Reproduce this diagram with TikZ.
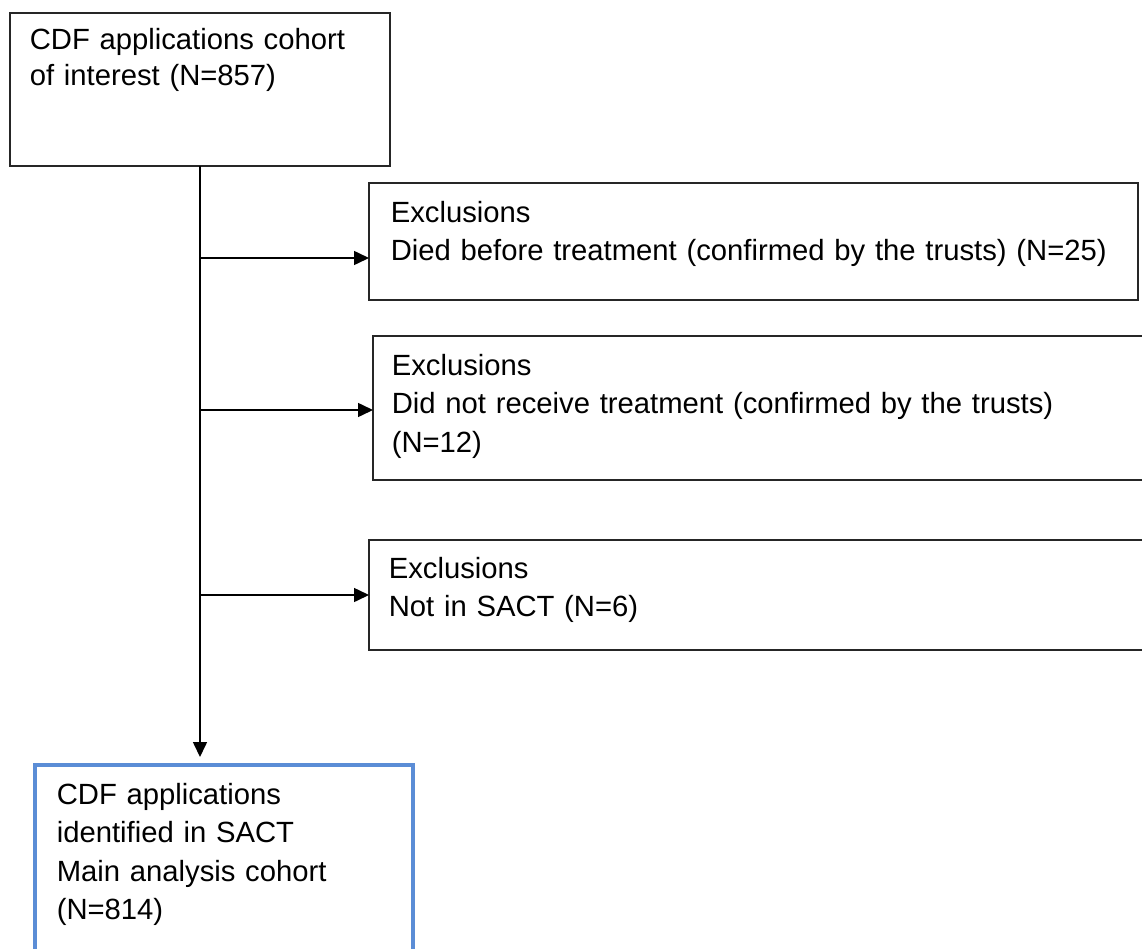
\documentclass[tikz,border=0pt]{standalone}
\usepackage{fontspec}
\setmainfont{Liberation Sans}
\usepackage{tikz}
\usetikzlibrary{arrows.meta,positioning,calc}
\usepackage{xcolor}
\definecolor{CohortBlue}{HTML}{5B8DD6}
\definecolor{BoxLine}{HTML}{262626}
\tikzset{
  flow box/.style={draw=BoxLine,line width=1.1pt,anchor=north west,inner sep=0pt,outer sep=0pt},
  flow text/.style={anchor=base west,align=left,inner sep=0pt,text width=18.8cm,
    font=\fontsize{20.8pt}{27.7pt}\selectfont},
  flow arrow/.style={-{Triangle[length=3.75mm,width=3.5mm]},draw=black,line width=1.1pt}
}

\begin{document}
\begin{tikzpicture}
  \useasboundingbox (0,0) rectangle (28.55,-23.7);
  % boxes
  \node[flow box,minimum width=9.5cm,minimum height=3.825cm] (cohort) at (0.25,-0.325) {};
  \node[flow box,minimum width=19.225cm,minimum height=2.925cm] (died) at (9.225,-4.575) {};
  \node[flow box,minimum width=19.675cm,minimum height=3.6cm] (notreat) at (9.325,-8.4) {};
  \node[flow box,minimum width=19.775cm,minimum height=2.75cm] (nosact) at (9.225,-13.5) {};
  \node[flow box,draw=CohortBlue,line width=2.85pt,minimum width=9.45cm,minimum height=5.5cm] (main) at (0.875,-19.125) {};
  % texts
  \node[flow text,text width=9cm,font=\fontsize{20.8pt}{24.9pt}\selectfont] (cohorttext) at (0.7375,-1.25) {CDF applications cohort\\of interest (N=857)};
  \node[flow text] (diedtext) at (9.7625,-5.55) {Exclusions\\Died before treatment (confirmed by the trusts) (N=25)};
  \node[flow text] (notreattext) at (9.7875,-9.375) {Exclusions\\Did not receive treatment (confirmed by the trusts)\\(N=12)};
  \node[flow text] (nosacttext) at (9.7125,-14.45) {Exclusions\\Not in SACT (N=6)};
  \node[flow text,text width=9cm,font=\fontsize{20.8pt}{27.4pt}\selectfont] (maintext) at (1.4125,-20.1) {CDF applications\\identified in SACT\\Main analysis cohort\\(N=814)};
  % connectors
  \coordinate (j1) at (5,-6.45);
  \coordinate (j2) at (5,-10.25);
  \coordinate (j3) at (5,-14.875);
  \draw[flow arrow,shorten >=0.2cm] (cohort.south) -- (cohort.south |- main.north);
  \draw[flow arrow] (j1) -- (j1 -| died.west);
  \draw[flow arrow] (j2) -- (j2 -| notreat.west);
  \draw[flow arrow] (j3) -- (j3 -| nosact.west);
\end{tikzpicture}
\end{document}
